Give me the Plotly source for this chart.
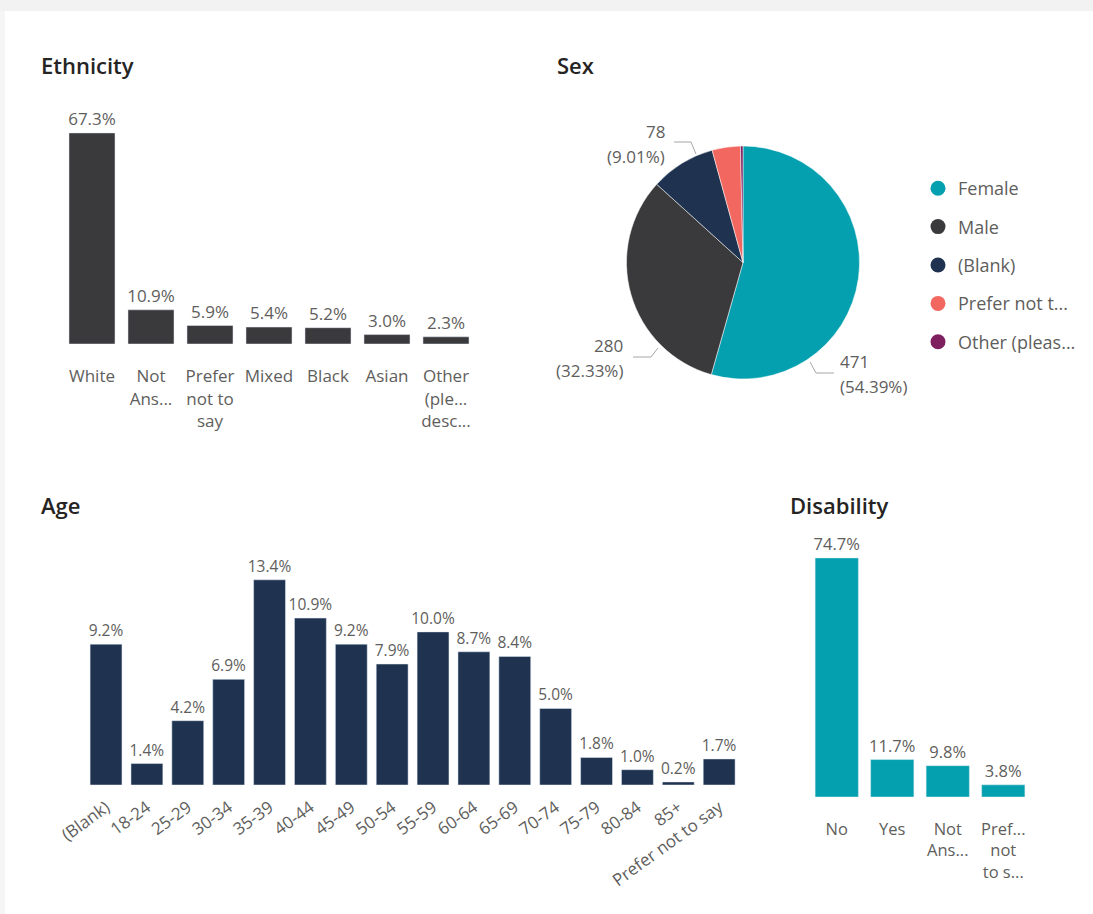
import plotly.graph_objects as go

# ---------------------------
# Data
# ---------------------------

eth_cats = ["White", "Not<br>Ans...", "Prefer<br>not to<br>say", "Mixed", "Black",
            "Asian", "Other<br>(ple...<br>desc..."]
eth_vals = [67.3, 10.9, 5.9, 5.4, 5.2, 3.0, 2.3]

sex_labels = ["Female", "Male", "(Blank)", "Prefer not t...", "Other (pleas..."]
sex_counts = [471, 280, 78, 34, 3]

age_cats = ["(Blank)", "18-24", "25-29", "30-34", "35-39", "40-44", "45-49", "50-54",
            "55-59", "60-64", "65-69", "70-74", "75-79", "80-84", "85+", "Prefer not to say"]
age_vals = [9.2, 1.4, 4.2, 6.9, 13.4, 10.9, 9.2, 7.9, 10.0, 8.7, 8.4, 5.0, 1.8, 1.0, 0.2, 1.7]

dis_cats = ["No", "Yes", "Not<br>Ans...", "Pref...<br>not<br>to s..."]
dis_vals = [74.7, 11.7, 9.8, 3.8]

# ---------------------------
# Style
# ---------------------------

W, H = 1093, 914
FONT = "Open Sans"
LABEL = "#605E5C"
TITLE = "#252423"
LEADER = "#A6A6A6"
GREY = "#3A3A3C"
NAVY = "#1F3350"
TEAL = "#04A0AF"
SALMON = "#F2675F"
PLUM = "#7E2060"
sex_colors = [TEAL, GREY, NAVY, SALMON, PLUM]


def px_x(a, b):
    return [a / W, b / W]


def px_y(top, bottom):
    return [1 - bottom / H, 1 - top / H]


def pct(v):
    return [f"{x:.1f}%" for x in v]


def bar(cats, vals, color, size, ax):
    return go.Bar(x=cats, y=vals, text=pct(vals), textposition="outside",
                  constraintext="none", cliponaxis=False, showlegend=False,
                  textfont=dict(family=FONT, size=size, color=LABEL),
                  marker=dict(color=color), xaxis="x" + ax, yaxis="y" + ax)


fig = go.Figure()
fig.add_trace(bar(eth_cats, eth_vals, GREY, 17, ""))
fig.add_trace(bar(age_cats, age_vals, NAVY, 15.5, "2"))
fig.add_trace(bar(dis_cats, dis_vals, TEAL, 16.5, "3"))

# sex pie (labels drawn Power BI style, below)
fig.add_trace(go.Pie(labels=sex_labels, values=sex_counts, textinfo="none",
                     sort=False, direction="clockwise", showlegend=False,
                     hoverinfo="label+value+percent",
                     marker=dict(colors=sex_colors, line=dict(color="white", width=0.5)),
                     domain=dict(x=px_x(626, 860), y=px_y(146, 379))))

# legend entries with round markers
for i, (lab, col) in enumerate(zip(sex_labels, sex_colors)):
    fig.add_trace(go.Scatter(x=[None], y=[None], mode="markers", name=lab,
                             marker=dict(color=col, size=15, symbol="circle"),
                             legendgroup=str(i), xaxis="x4", yaxis="y4"))

# pie data labels: value on first line, share on second
total = sum(sex_counts)
pie_lab = [  # slice index, text x, anchor, y line1, y line2, leader path
    (0, 838, "left", 361, 386, [(810, 362), (816, 373), (834, 373)]),
    (1, 625, "right", 345, 370, [(658, 348), (651, 357), (633, 357)]),
    (2, 667, "right", 131, 157, [(696, 154), (691, 142), (674, 142)]),
]

annotations = []
shapes = [
    dict(type="rect", xref="paper", yref="paper", x0=0, x1=1,
         y0=1 - 11 / H, y1=1, fillcolor="#F2F2F2", line=dict(width=0), layer="below"),
    dict(type="rect", xref="paper", yref="paper", x0=0, x1=5 / W,
         y0=0, y1=1 - 11 / H, fillcolor="#F5F5F5", line=dict(width=0), layer="below"),
]
for idx, tx, anc, y1, y2, path in pie_lab:
    c = sex_counts[idx]
    for t, ty in [(str(c), y1), (f"({c / total * 100:.2f}%)", y2)]:
        annotations.append(dict(text=t, x=tx / W, y=1 - ty / H, xref="paper", yref="paper",
                                xanchor=anc, yanchor="middle", showarrow=False,
                                font=dict(family=FONT, size=17, color=LABEL)))
    d = "M " + " L ".join(f"{px / W} {1 - py / H}" for px, py in path)
    shapes.append(dict(type="path", xref="paper", yref="paper", path=d,
                       line=dict(color=LEADER, width=1)))

for t, x, y in [("Ethnicity", 39, 65), ("Sex", 555, 65),
                ("Age", 39, 505), ("Disability", 788, 505)]:
    annotations.append(dict(text=t, x=x / W, y=1 - y / H, xref="paper", yref="paper",
                            xanchor="left", yanchor="middle", showarrow=False,
                            font=dict(family=FONT, size=22, color=TITLE, weight=600)))

axis_common = dict(showgrid=False, zeroline=False, showline=False, automargin=False,
                   ticks="outside", tickcolor="rgba(0,0,0,0)", fixedrange=True)

fig.update_layout(
    width=W, height=H,
    margin=dict(l=0, r=0, t=0, b=0),
    paper_bgcolor="white", plot_bgcolor="white",
    font=dict(family=FONT, color=LABEL),
    bargap=0.22,
    xaxis=dict(domain=px_x(62.5, 475.5), ticklen=17, anchor="y",
               tickfont=dict(family=FONT, size=17, color=LABEL), **axis_common),
    yaxis=dict(domain=px_y(100, 344), range=[0, 77.8], visible=False, anchor="x"),
    xaxis2=dict(domain=px_x(85.6, 739.6), ticklen=5, tickangle=-36, anchor="y2",
                tickfont=dict(family=FONT, size=17, color=LABEL), **axis_common),
    yaxis2=dict(domain=px_y(540, 785), range=[0, 16.0], visible=False, anchor="x2"),
    xaxis3=dict(domain=px_x(809, 1031), ticklen=17, anchor="y3",
                tickfont=dict(family=FONT, size=16.5, color=LABEL), **axis_common),
    yaxis3=dict(domain=px_y(540, 797), range=[0, 80.3], visible=False, anchor="x3"),
    xaxis4=dict(domain=[0.99, 1], visible=False, anchor="y4"),
    yaxis4=dict(domain=[0.99, 1], visible=False, anchor="x4"),
    legend=dict(x=918 / W, y=1 - 170 / H, xanchor="left", yanchor="top",
                font=dict(family=FONT, size=18, color=LABEL),
                traceorder="grouped", tracegroupgap=12, bgcolor="rgba(0,0,0,0)"),
    shapes=shapes,
    annotations=annotations,
)

fig.write_html("out.html", config={"displayModeBar": False},
               post_script="document.body.style.margin = '0';")
